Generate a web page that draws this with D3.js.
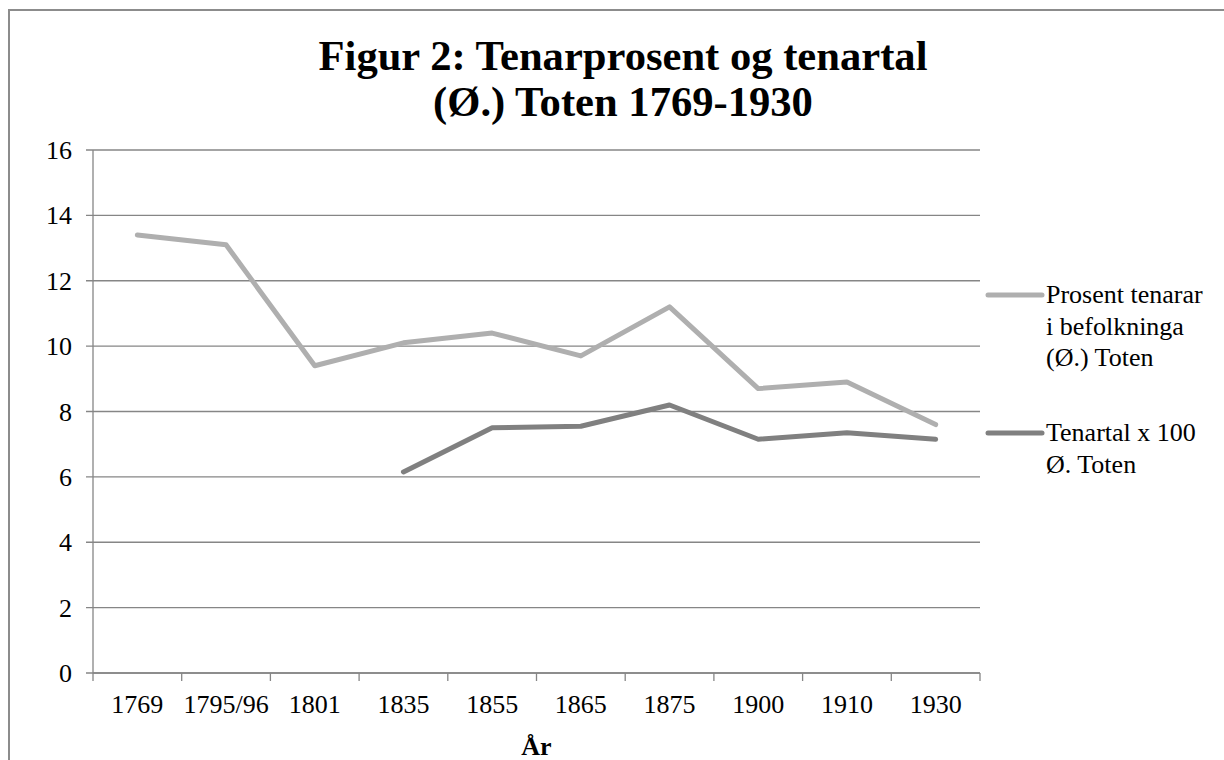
<!DOCTYPE html>
<html>
<head>
<meta charset="utf-8">
<script src="https://cdn.jsdelivr.net/npm/d3@7"></script>
</head>
<body style="margin:0">
<script>
// categories (år)
const years = ["1769", "1795/96", "1801", "1835", "1855", "1865", "1875", "1900", "1910", "1930"];
// prosent tenarar i befolkninga (Ø.) Toten
const prosent = [13.4, 13.1, 9.4, 10.1, 10.4, 9.7, 11.2, 8.7, 8.9, 7.6];
// tenartal x 100, Ø. Toten (ingen tal før 1835)
const tenartal = [null, null, null, 6.15, 7.5, 7.55, 8.2, 7.15, 7.35, 7.15];
const yTicks = [0, 2, 4, 6, 8, 10, 12, 14, 16];

const series = [
  { name: ["Prosent tenarar", "i befolkninga", "(Ø.) Toten"], values: prosent, color: "#afafaf", ly: 295 },
  { name: ["Tenartal x 100", "Ø. Toten"], values: tenartal, color: "#808080", ly: 433 }
];

const FONT = "Liberation Serif";
const W = 1224, H = 760;
const margin = { top: 150, right: 244, bottom: 87, left: 93 };
const width = W - margin.left - margin.right,
      height = H - margin.top - margin.bottom;

const svg = d3.select("body").append("svg")
  .attr("width", W)
  .attr("height", H)
  .attr("font-family", FONT);

// ramme rundt heile figuren
svg.append("rect")
  .attr("x", 9).attr("y", 10)
  .attr("width", W + 20).attr("height", H + 20)
  .attr("fill", "none")
  .attr("stroke", "#8c8c8c")
  .attr("stroke-width", 2);

// tittel
const title = svg.append("text")
  .attr("text-anchor", "middle")
  .attr("font-family", FONT)
  .attr("font-size", 42.6)
  .attr("font-weight", "bold");
title.append("tspan").attr("x", 623).attr("y", 70).text("Figur 2: Tenarprosent og tenartal");
title.append("tspan").attr("x", 623).attr("y", 116).text("(Ø.) Toten 1769-1930");

const x = d3.scaleBand().domain(years).range([margin.left, margin.left + width]);
const y = d3.scaleLinear().domain([0, 16]).range([margin.top + height, margin.top]);

// rutenett
svg.append("g")
  .selectAll("line")
  .data(yTicks)
  .join("line")
    .attr("x1", margin.left - 7).attr("x2", margin.left + width)
    .attr("y1", d => y(d)).attr("y2", d => y(d))
    .attr("stroke", "#868686")
    .attr("stroke-width", 1.3);

// y-akse
svg.append("line")
  .attr("x1", margin.left).attr("x2", margin.left)
  .attr("y1", margin.top).attr("y2", margin.top + height)
  .attr("stroke", "#868686")
  .attr("stroke-width", 1.3);

yTicks.forEach(v => {
  svg.append("text")
    .attr("x", margin.left - 21)
    .attr("y", y(v) + 9)
    .attr("text-anchor", "end")
    .attr("font-family", FONT)
    .attr("font-size", 26)
    .text(v);
});

// x-akse med tick mellom kategoriane
svg.append("line")
  .attr("x1", margin.left).attr("x2", margin.left + width)
  .attr("y1", y(0)).attr("y2", y(0))
  .attr("stroke", "#868686")
  .attr("stroke-width", 1.3);
d3.range(years.length + 1).forEach(i => {
  const xx = margin.left + i * x.step();
  svg.append("line")
    .attr("x1", xx).attr("x2", xx)
    .attr("y1", y(0)).attr("y2", y(0) + 8)
    .attr("stroke", "#868686")
    .attr("stroke-width", 1.3);
});
years.forEach(yr => {
  svg.append("text")
    .attr("x", x(yr) + x.bandwidth() / 2)
    .attr("y", y(0) + 40)
    .attr("text-anchor", "middle")
    .attr("font-family", FONT)
    .attr("font-size", 26)
    .text(yr);
});

// aksetittel
svg.append("text")
  .attr("x", margin.left + width / 2)
  .attr("y", y(0) + 82)
  .attr("text-anchor", "middle")
  .attr("font-family", FONT)
  .attr("font-size", 26)
  .attr("font-weight", "bold")
  .text("År");

// linjer
const line = d3.line()
  .defined(d => d.v != null)
  .x(d => x(d.year) + x.bandwidth() / 2)
  .y(d => y(d.v));

series.forEach(s => {
  svg.append("path")
    .datum(years.map((yr, i) => ({ year: yr, v: s.values[i] })))
    .attr("fill", "none")
    .attr("stroke", s.color)
    .attr("stroke-width", 5)
    .attr("stroke-linejoin", "round")
    .attr("stroke-linecap", "round")
    .attr("d", line);
});

// forklaring
series.forEach(s => {
  svg.append("line")
    .attr("x1", 988).attr("x2", 1042)
    .attr("y1", s.ly).attr("y2", s.ly)
    .attr("stroke", s.color)
    .attr("stroke-width", 5)
    .attr("stroke-linecap", "round");
  s.name.forEach((ln, i) => {
    svg.append("text")
      .attr("x", 1046)
      .attr("y", s.ly + 8 + i * 31.5)
      .attr("font-family", FONT)
      .attr("font-size", 26)
      .text(ln);
  });
});
</script>
</body>
</html>
